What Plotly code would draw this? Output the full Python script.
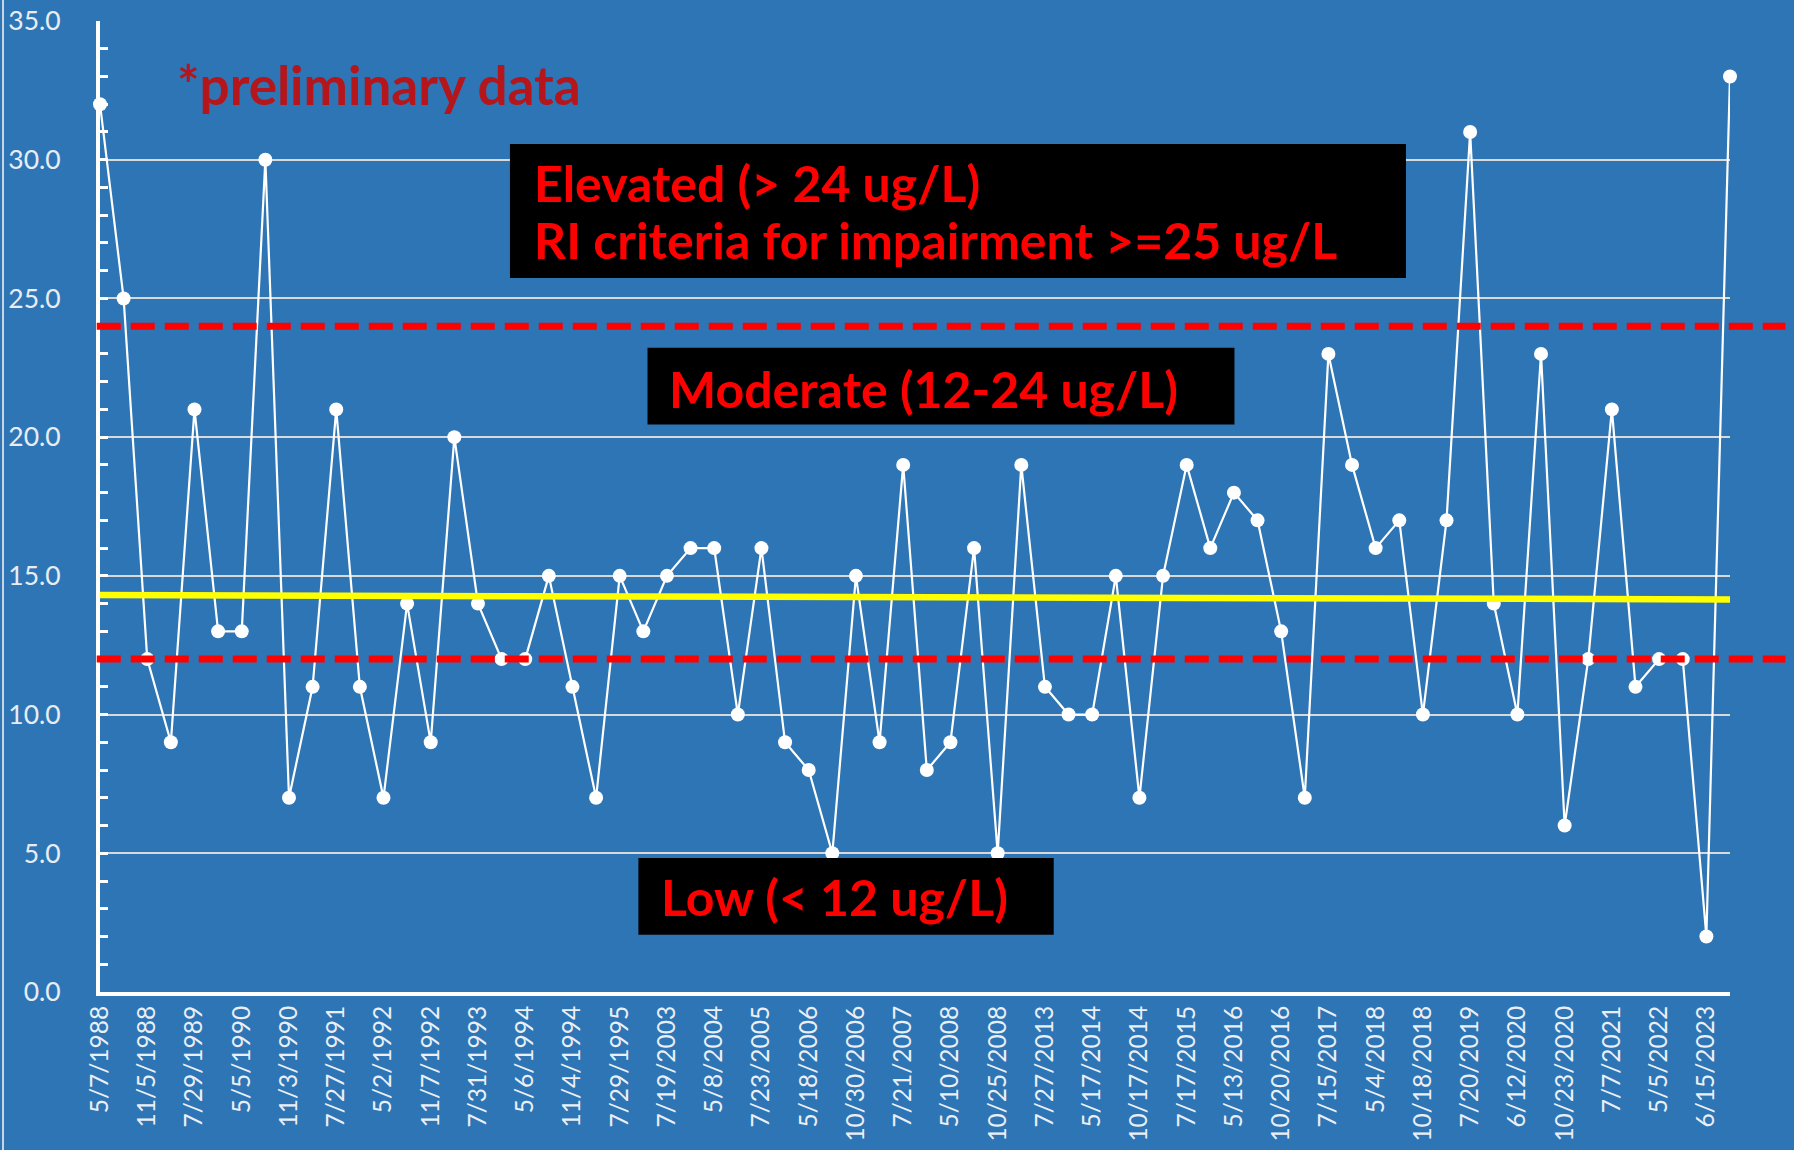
import numpy as np
import plotly.graph_objects as go

# ---------------- data ----------------
date_labels = ["5/7/1988", "11/5/1988", "7/29/1989", "5/5/1990", "11/3/1990",
               "7/27/1991", "5/2/1992", "11/7/1992", "7/31/1993", "5/6/1994",
               "11/4/1994", "7/29/1995", "7/19/2003", "5/8/2004", "7/23/2005",
               "5/18/2006", "10/30/2006", "7/21/2007", "5/10/2008", "10/25/2008",
               "7/27/2013", "5/17/2014", "10/17/2014", "7/17/2015", "5/13/2016",
               "10/20/2016", "7/15/2017", "5/4/2018", "10/18/2018", "7/20/2019",
               "6/12/2020", "10/23/2020", "7/7/2021", "5/5/2022", "6/15/2023"]

chl_values = [32, 25, 12, 9, 21, 13, 13, 30, 7, 11,
              21, 11, 7, 14, 9, 20, 14, 12, 12, 15,
              11, 7, 15, 13, 15, 16, 16, 10, 16, 9,
              8, 5, 15, 9, 19, 8, 9, 16, 5, 19,
              11, 10, 10, 15, 7, 15, 19, 16, 18, 17,
              13, 7, 23, 19, 16, 17, 10, 17, 31, 14,
              10, 23, 6, 12, 21, 11, 12, 12, 2, 33]

elevated_threshold = 24
low_threshold = 12
y_ticks = [0, 5, 10, 15, 20, 25, 30, 35]

# ---------------- derived ----------------
x_idx = np.arange(len(chl_values))
label_pos = x_idx[::2][:len(date_labels)]
slope, intercept = np.polyfit(x_idx, chl_values, 1)
trend_x = [x_idx[0], x_idx[-1]]
trend_y = [intercept + slope * v for v in trend_x]

BG = "#2E75B6"
fig = go.Figure()

fig.add_trace(go.Scatter(
    x=x_idx, y=chl_values, mode="lines+markers",
    line=dict(color="white", width=2.2),
    marker=dict(color="white", size=14),
    cliponaxis=False, showlegend=False))

fig.add_trace(go.Scatter(
    x=trend_x, y=trend_y, mode="lines",
    line=dict(color="#FFFF00", width=6.5),
    showlegend=False))

shapes = []
for t in (elevated_threshold, low_threshold):
    shapes.append(dict(type="line", xref="paper", yref="y", x0=-0.002, x1=1.034,
                       y0=t, y1=t, layer="above",
                       line=dict(color="#FF0000", width=7, dash="24px,10px")))

boxes = [(0.2515, 0.8012, 0.7353, 0.8733),
         (0.3359, 0.6960, 0.5845, 0.6634),
         (0.3303, 0.5851, 0.0590, 0.1379)]
for x0, x1, y0, y1 in boxes:
    shapes.append(dict(type="rect", xref="paper", yref="paper", x0=x0, x1=x1,
                       y0=y0, y1=y1, fillcolor="black", line=dict(width=0),
                       layer="above"))

# thin slide border at left
shapes.append(dict(type="line", xref="paper", yref="paper", x0=-0.0595, x1=-0.0595,
                   y0=-0.17, y1=1.03, line=dict(color="#C9D6E3", width=2), layer="above"))

red_font = dict(family="Lato", size=50, color="#FF0000", weight="bold")
annotations = [
    dict(text="Elevated (> 24 ug/L)", x=0.2650, y=0.8332),
    dict(text="RI criteria for impairment >=25 ug/L", x=0.2650, y=0.7745),
    dict(text="Moderate (12-24 ug/L)", x=0.3479, y=0.621),
    dict(text="Low (< 12 ug/L)", x=0.3429, y=0.0978),
]
ann = []
for a in annotations:
    ann.append(dict(text=a["text"], x=a["x"], y=a["y"], xref="paper", yref="paper",
                    xanchor="left", yanchor="middle", showarrow=False, font=red_font))
ann.append(dict(text="*preliminary data", x=0.0460, y=0.935, xref="paper", yref="paper",
                xanchor="left", yanchor="middle", showarrow=False,
                font=dict(family="Lato", size=53, color="#B4161B", weight="bold")))

fig.update_layout(
    width=1794, height=1150,
    margin=dict(l=100, r=64, t=21, b=158, autoexpand=False),
    paper_bgcolor=BG, plot_bgcolor=BG,
    shapes=shapes, annotations=ann,
    xaxis=dict(range=[x_idx[0], x_idx[-1]], tickmode="array", tickvals=label_pos,
               ticktext=date_labels, tickangle=-90, showgrid=False, zeroline=False,
               showline=True, linecolor="white", linewidth=4, ticks="",
               automargin=False,
               tickfont=dict(family="Lato", size=24.5, color="#EAEFF5")),
    yaxis=dict(range=[0, 35], tickmode="array", tickvals=y_ticks, tickformat=".1f",
               showgrid=True, gridcolor="#D9D9D9", gridwidth=2, zeroline=False,
               showline=True, linecolor="white", linewidth=4, automargin=False,
               ticks="inside", ticklen=8, tickwidth=3, tickcolor="white",
               minor=dict(tickmode="linear", tick0=0, dtick=1, ticks="inside",
                          ticklen=8, tickwidth=3, tickcolor="white", showgrid=False),
               ticklabelstandoff=30,
               tickfont=dict(family="Lato", size=26.5, color="#E8EDF3")),
)

fig.write_html("out.html", config={"displayModeBar": False},
               post_script="document.body.style.margin='0';document.body.style.overflow='hidden';")
